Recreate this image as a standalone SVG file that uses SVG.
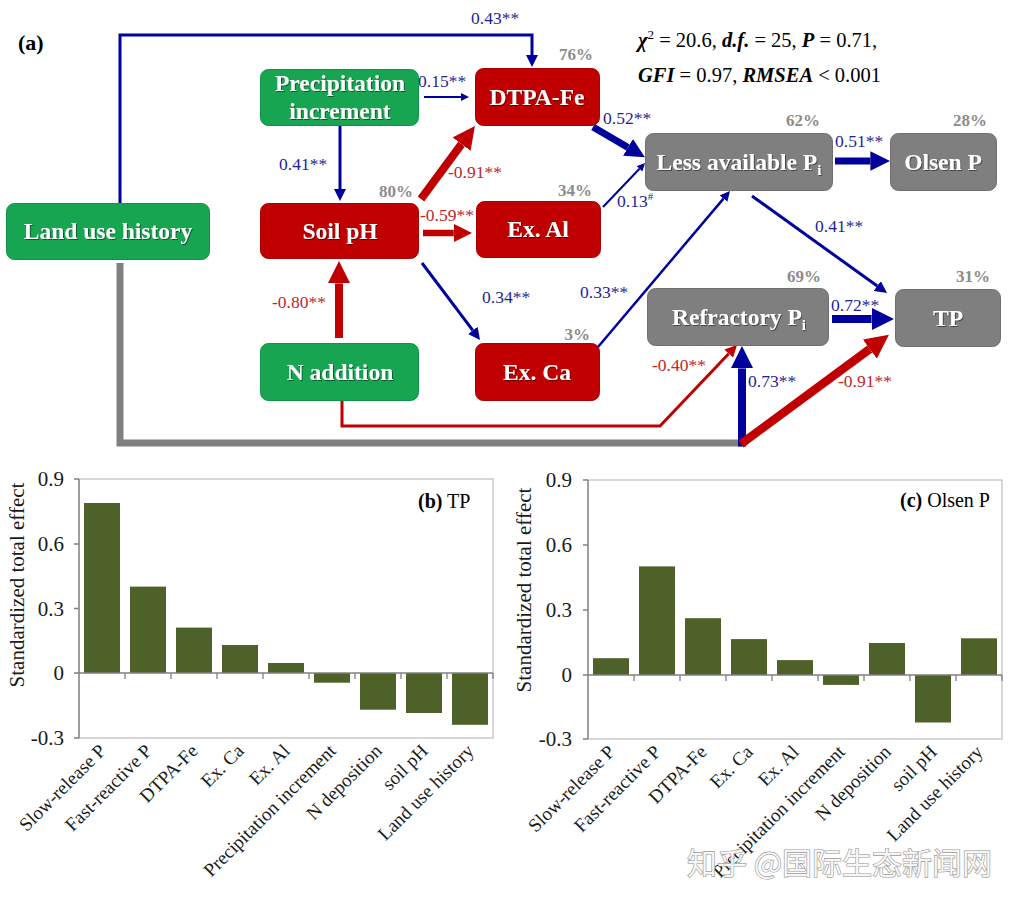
<svg xmlns="http://www.w3.org/2000/svg" width="1017" height="905" viewBox="0 0 1017 905">
<style>
.nt{font-family:"Liberation Serif","Times New Roman",serif;font-weight:bold;font-size:23.5px;fill:#fff;text-anchor:middle}
.lb{font-family:"Liberation Serif","Times New Roman",serif;font-size:17.5px;fill:#1f1f99}
.lr{font-family:"Liberation Serif","Times New Roman",serif;font-size:17.5px;fill:#c0262a}
.pc{font-family:"Liberation Serif","Times New Roman",serif;font-weight:bold;font-size:17px;fill:#8c8c8c;text-anchor:end}
.st{font-family:"Liberation Serif","Times New Roman",serif;font-size:20.5px;fill:#000}
.bi{font-weight:bold;font-style:italic}
.g{fill:#17a552;stroke:#12924a;stroke-width:1}
.r{fill:#c00000;stroke:#a80000;stroke-width:1}
.y{fill:#7f7f7f;stroke:#6f6f6f;stroke-width:1}
.cb{fill:none;stroke:#00009c}
.cr{fill:none;stroke:#c00000}
.bar{fill:#4e6128}
.ax{font-family:"Liberation Serif","Times New Roman",serif;font-size:21px;fill:#1a1a1a}
.xl{font-family:"Liberation Serif","Times New Roman",serif;font-size:19px;fill:#1a1a1a;text-anchor:end}
.frame{fill:none;stroke:#b0b0b0;stroke-width:1}
.axis{fill:none;stroke:#808080;stroke-width:1.3}
</style>
<defs>
<filter id="sh" x="-10%" y="-10%" width="120%" height="130%"><feDropShadow dx="1" dy="1" stdDeviation="0.6" flood-color="#000" flood-opacity="0.45"/></filter>
<marker id="hb" viewBox="0 0 4 4" markerWidth="4" markerHeight="4" refX="0" refY="2" orient="auto" markerUnits="strokeWidth"><path d="M0,0 L4,2 L0,4 z" fill="#00009c"/></marker>
<marker id="hr" viewBox="0 0 4 4" markerWidth="4" markerHeight="4" refX="0" refY="2" orient="auto" markerUnits="strokeWidth"><path d="M0,0 L4,2 L0,4 z" fill="#c00000"/></marker>
<marker id="Hb" viewBox="0 0 2.8 2.8" markerWidth="2.8" markerHeight="2.8" refX="0" refY="1.4" orient="auto" markerUnits="strokeWidth"><path d="M0,0 L2.8,1.4 L0,2.8 z" fill="#00009c"/></marker>
<marker id="Hr" viewBox="0 0 2.8 2.8" markerWidth="2.8" markerHeight="2.8" refX="0" refY="1.4" orient="auto" markerUnits="strokeWidth"><path d="M0,0 L2.8,1.4 L0,2.8 z" fill="#c00000"/></marker>
</defs>
<rect width="1017" height="905" fill="#fff"/>

<text x="18" y="50" style="font-family:'Liberation Serif','Times New Roman',serif;font-weight:bold;font-size:22px">(a)</text>

<g id="stats" class="st">
<text x="638" y="47"><tspan class="bi">χ</tspan><tspan font-size="13" dy="-8">2</tspan><tspan dy="8"> = 20.6, </tspan><tspan class="bi">d.f.</tspan> = 25, <tspan class="bi">P</tspan> = 0.71,</text>
<text x="638" y="82"><tspan class="bi">GFI</tspan> = 0.97, <tspan class="bi">RMSEA</tspan> &lt; 0.001</text>
</g>

<g id="connectors">
<path d="M120,263 V443 H742" fill="none" stroke="#808080" stroke-width="7"/>
<path class="cb" d="M120,203 V35 H532 V55" stroke-width="3" marker-end="url(#hb)"/>
<path class="cb" d="M424,97 H461" stroke-width="2" marker-end="url(#hb)"/>
<path class="cb" d="M340,126 V189" stroke-width="3" marker-end="url(#hb)"/>
<path class="cr" d="M421,199 L461.6,144" stroke-width="8" marker-end="url(#Hr)"/>
<path class="cr" d="M423,233 H453.8" stroke-width="6.5" marker-end="url(#Hr)"/>
<path class="cb" d="M422,263 L472.8,330.4" stroke-width="3" marker-end="url(#hb)"/>
<path class="cr" d="M339,338 V283.4" stroke-width="8" marker-end="url(#Hr)"/>
<path class="cb" d="M593,127 L628,147.4" stroke-width="7" marker-end="url(#Hb)"/>
<path class="cb" d="M603,207 L639.5,168.8" stroke-width="2" marker-end="url(#hb)"/>
<path class="cb" d="M598,347 L723.5,198.6" stroke-width="2.5" marker-end="url(#hb)"/>
<path class="cb" d="M835,161 H870.4" stroke-width="7" marker-end="url(#Hb)"/>
<path class="cb" d="M752,196 L877.3,286" stroke-width="3" marker-end="url(#hb)"/>
<path class="cb" d="M832,319 H871.6" stroke-width="8" marker-end="url(#Hb)"/>
<path class="cr" d="M342,401 V426 H660 L728.7,353.7" stroke-width="3" marker-end="url(#hr)"/>
<path class="cb" d="M742,446.5 V368.4" stroke-width="8" marker-end="url(#Hb)"/>
<path class="cr" d="M741,444 L869.8,349" stroke-width="8.5" marker-end="url(#Hr)"/>
</g>

<g id="edge-labels">
<text class="lb" x="471" y="24">0.43**</text>
<text class="lb" x="418" y="87">0.15**</text>
<text class="lb" x="279" y="170">0.41**</text>
<text class="lr" x="448" y="178">-0.91**</text>
<text class="lr" x="420" y="221">-0.59**</text>
<text class="lb" x="482" y="303">0.34**</text>
<text class="lr" x="272" y="308">-0.80**</text>
<text class="lb" x="603" y="124">0.52**</text>
<text class="lb" x="617" y="207">0.13<tspan font-size="11" dy="-7">#</tspan></text>
<text class="lb" x="580" y="298">0.33**</text>
<text class="lb" x="835" y="147">0.51**</text>
<text class="lb" x="815" y="232">0.41**</text>
<text class="lb" x="831" y="311">0.72**</text>
<text class="lr" x="652" y="371">-0.40**</text>
<text class="lb" x="748" y="387">0.73**</text>
<text class="lr" x="838" y="387">-0.91**</text>
</g>

<g id="n-land">
<rect class="g" x="6.5" y="203.5" width="203" height="56" rx="8"/>
<text class="nt" x="108" y="239" filter="url(#sh)">Land use history</text>
</g>
<g id="n-precip">
<rect class="g" x="260.5" y="69.5" width="158" height="56" rx="8"/>
<text class="nt" x="340" y="91" filter="url(#sh)">Precipitation</text>
<text class="nt" x="340" y="119" filter="url(#sh)">increment</text>
</g>
<g id="n-soilph">
<rect class="r" x="260.5" y="203.5" width="158" height="55" rx="8"/>
<text class="nt" x="340" y="239" filter="url(#sh)">Soil pH</text>
<text class="pc" x="413" y="197">80%</text>
</g>
<g id="n-naddition">
<rect class="g" x="260.5" y="343.5" width="158" height="57" rx="8"/>
<text class="nt" x="340" y="380" filter="url(#sh)">N addition</text>
</g>
<g id="n-dtpa">
<rect class="r" x="475.5" y="68.5" width="124" height="57" rx="8"/>
<text class="nt" x="537" y="105" filter="url(#sh)">DTPA-Fe</text>
<text class="pc" x="593" y="60">76%</text>
</g>
<g id="n-exal">
<rect class="r" x="476.5" y="201.5" width="124" height="56" rx="8"/>
<text class="nt" x="538" y="237" filter="url(#sh)">Ex. Al</text>
<text class="pc" x="592" y="196">34%</text>
</g>
<g id="n-exca">
<rect class="r" x="475.5" y="343.5" width="124" height="57" rx="8"/>
<text class="nt" x="537" y="380" filter="url(#sh)">Ex. Ca</text>
<text class="pc" x="590" y="340">3%</text>
</g>
<g id="n-less">
<rect class="y" x="645.5" y="133.5" width="187" height="57" rx="8"/>
<text class="nt" x="739" y="170" filter="url(#sh)">Less available P<tspan font-size="15" dy="5">i</tspan></text>
<text class="pc" x="820" y="126">62%</text>
</g>
<g id="n-olsen">
<rect class="y" x="890.5" y="133.5" width="106" height="57" rx="8"/>
<text class="nt" x="943" y="170" filter="url(#sh)">Olsen P</text>
<text class="pc" x="987" y="126">28%</text>
</g>
<g id="n-refr">
<rect class="y" x="647.5" y="288.5" width="181" height="57" rx="8"/>
<text class="nt" x="739" y="325" filter="url(#sh)">Refractory P<tspan font-size="15" dy="5">i</tspan></text>
<text class="pc" x="821" y="282">69%</text>
</g>
<g id="n-tp">
<rect class="y" x="895.5" y="289.5" width="105" height="57" rx="8"/>
<text class="nt" x="948" y="326" filter="url(#sh)">TP</text>
<text class="pc" x="990" y="282">31%</text>
</g>

<g id="chart-b">
<rect class="frame" x="79" y="479" width="414" height="259"/>
<g class="bar">
<rect x="84" y="503" width="36" height="170"/>
<rect x="130" y="586.6" width="36" height="86.4"/>
<rect x="176" y="627.6" width="36" height="45.4"/>
<rect x="222" y="645" width="36" height="28"/>
<rect x="268" y="663" width="36" height="10"/>
<rect x="314" y="673" width="36" height="9.7"/>
<rect x="360" y="673" width="36" height="36.7"/>
<rect x="406" y="673" width="36" height="40"/>
<rect x="452" y="673" width="36" height="51.8"/>
</g>
<path class="axis" d="M79,479 V738 M74,479 H79 M74,544 H79 M74,608.5 H79 M74,673 H79 M74,738 H79"/>
<path class="axis" d="M79,673 H493 M125,673 v6 M171,673 v6 M217,673 v6 M263,673 v6 M309,673 v6 M355,673 v6 M401,673 v6 M447,673 v6 M493,673 v6" stroke-width="1.6"/>
<g class="ax" text-anchor="end">
<text x="64" y="486">0.9</text>
<text x="64" y="551">0.6</text>
<text x="64" y="615.5">0.3</text>
<text x="64" y="680">0</text>
<text x="64" y="745">-0.3</text>
</g>
<text class="ax" transform="translate(24,585) rotate(-90)" text-anchor="middle" font-size="21.5">Standardized total effect</text>
<text x="418" y="508" style="font-family:'Liberation Serif','Times New Roman',serif;font-size:20px"><tspan font-weight="bold">(b)</tspan> TP</text>
<g class="xl">
<text transform="translate(107,752) rotate(-45)">Slow-release P</text>
<text transform="translate(153,752) rotate(-45)">Fast-reactive P</text>
<text transform="translate(199,752) rotate(-45)">DTPA-Fe</text>
<text transform="translate(245,752) rotate(-45)">Ex. Ca</text>
<text transform="translate(291,752) rotate(-45)">Ex. Al</text>
<text transform="translate(337,752) rotate(-45)">Precipitation increment</text>
<text transform="translate(383,752) rotate(-45)">N deposition</text>
<text transform="translate(429,752) rotate(-45)">soil pH</text>
<text transform="translate(475,752) rotate(-45)">Land use history</text>
</g>
</g>

<g id="chart-c">
<rect class="frame" x="588" y="480" width="414" height="259"/>
<g class="bar">
<rect x="593" y="658.2" width="36" height="16.8"/>
<rect x="639" y="566.4" width="36" height="108.6"/>
<rect x="685" y="618.2" width="36" height="56.8"/>
<rect x="731" y="639.1" width="36" height="35.9"/>
<rect x="777" y="660.1" width="36" height="14.9"/>
<rect x="823" y="675" width="36" height="9.9"/>
<rect x="869" y="643" width="36" height="32"/>
<rect x="915" y="675" width="36" height="47.5"/>
<rect x="961" y="638.3" width="36" height="36.7"/>
</g>
<path class="axis" d="M588,480 V739 M583,480 H588 M583,545 H588 M583,610 H588 M583,675 H588 M583,739 H588"/>
<path class="axis" d="M588,675 H1002 M634,675 v6 M680,675 v6 M726,675 v6 M772,675 v6 M818,675 v6 M864,675 v6 M910,675 v6 M956,675 v6 M1002,675 v6" stroke-width="1.6"/>
<g class="ax" text-anchor="end">
<text x="572" y="487">0.9</text>
<text x="572" y="552">0.6</text>
<text x="572" y="617">0.3</text>
<text x="572" y="682">0</text>
<text x="572" y="746">-0.3</text>
</g>
<text class="ax" transform="translate(531,590) rotate(-90)" text-anchor="middle" font-size="21.5">Standardized total effect</text>
<text x="900" y="507" style="font-family:'Liberation Serif','Times New Roman',serif;font-size:20px"><tspan font-weight="bold">(c)</tspan> Olsen P</text>
<g class="xl">
<text transform="translate(616,753) rotate(-45)">Slow-release P</text>
<text transform="translate(662,753) rotate(-45)">Fast-reactive P</text>
<text transform="translate(708,753) rotate(-45)">DTPA-Fe</text>
<text transform="translate(754,753) rotate(-45)">Ex. Ca</text>
<text transform="translate(800,753) rotate(-45)">Ex. Al</text>
<text transform="translate(846,753) rotate(-45)">Precipitation increment</text>
<text transform="translate(892,753) rotate(-45)">N deposition</text>
<text transform="translate(938,753) rotate(-45)">soil pH</text>
<text transform="translate(984,753) rotate(-45)">Land use history</text>
</g>
</g>

<text x="687" y="874" style="font-family:'Noto Sans CJK SC',sans-serif;font-size:30px;fill:#fff;stroke:#9a9a9a;stroke-width:1.2;paint-order:stroke" fill-opacity="0.85">知乎 @国际生态新闻网</text>
</svg>
